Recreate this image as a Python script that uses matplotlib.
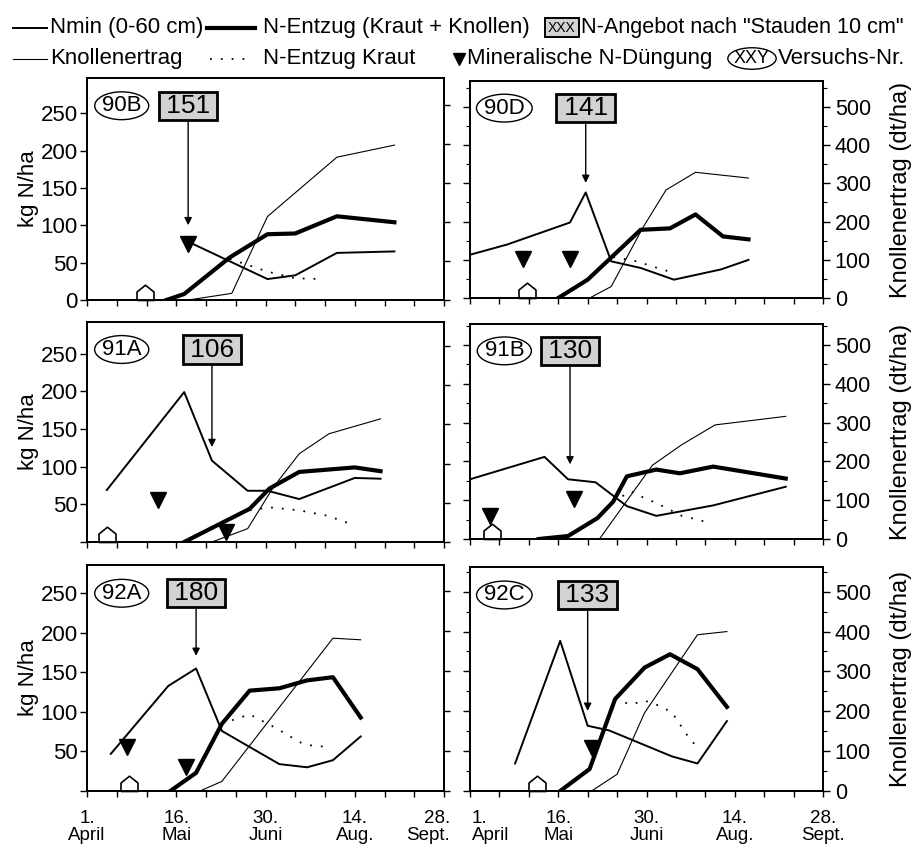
import matplotlib
matplotlib.use('Agg')
import matplotlib.pyplot as plt
from matplotlib.lines import Line2D
from matplotlib.transforms import ScaledTranslation
from matplotlib.ticker import MultipleLocator, FixedLocator, NullFormatter

plt.rcParams['font.family'] = ['Liberation Sans', 'DejaVu Sans']

# x axis: days counted from 1. April
date_ticks = [0, 45, 90, 135, 180]
date_labels = ['1.\nApril', '16.\nMai', '30.\nJuni', '14.\nAug.', '28.\nSept.']

# ---- 90B
nmin_90B_t = [51, 91, 105, 126, 155]
nmin_90B = [78, 28, 33, 63, 65]
entzug_90B_t = [40, 49, 72, 91, 105, 126, 155]
entzug_90B = [0, 8, 57, 88, 89, 112, 104]
kraut_90B_t = [72, 91, 105, 119]
kraut_90B = [55, 38, 29, 28]
ertrag_90B_t = [51, 73, 91, 126, 155]
ertrag_90B = [0, 17, 214, 366, 397]
duengung_90B_t = [51]
duengung_90B = [75]
pflanzung_90B = 29
angebot_90B = 151
angebot_90B_t = 51
angebot_90B_tip = 100

# ---- 90D
nmin_90D_t = [0, 19, 51, 59, 72, 87, 104, 128, 142]
nmin_90D = [59, 73, 103, 144, 50, 41, 25, 39, 52]
entzug_90D_t = [45, 60, 87, 102, 115, 129, 142]
entzug_90D = [0, 25, 93, 95, 114, 84, 80]
kraut_90D_t = [73, 85, 99, 105]
kraut_90D = [56, 50, 38, 34]
ertrag_90D_t = [61, 72, 88, 100, 115, 142]
ertrag_90D = [0, 30, 183, 283, 329, 314]
duengung_90D_t = [27, 51]
duengung_90D = [53, 53]
pflanzung_90D = 29
angebot_90D = 141
angebot_90D_t = 59
angebot_90D_tip = 157

# ---- 91A
nmin_91A_t = [10, 49, 63, 81, 91, 107, 135, 148]
nmin_91A = [69, 199, 108, 68, 68, 57, 85, 84]
entzug_91A_t = [49, 64, 82, 92, 107, 135, 148]
entzug_91A = [0, 20, 44, 71, 93, 99, 94]
kraut_91A_t = [82, 92, 107, 121, 133]
kraut_91A = [42, 46, 42, 35, 24]
ertrag_91A_t = [63, 81, 94, 107, 122, 148]
ertrag_91A = [0, 34, 140, 225, 276, 314]
duengung_91A_t = [36, 70]
duengung_91A = [56, 13]
pflanzung_91A = 10
angebot_91A = 106
angebot_91A_t = 63
angebot_91A_tip = 126

# ---- 91B
nmin_91B_t = [0, 38, 50, 64, 80, 95, 124, 161]
nmin_91B = [80, 110, 80, 76, 44, 31, 45, 70]
entzug_91B_t = [35, 50, 65, 73, 80, 95, 107, 124, 161]
entzug_91B = [0, 4, 28, 50, 84, 93, 88, 97, 81]
kraut_91B_t = [73, 82, 88, 96, 108, 116, 123]
kraut_91B = [50, 64, 56, 47, 31, 26, 21]
ertrag_91B_t = [66, 93, 108, 125, 161]
ertrag_91B = [0, 190, 243, 294, 316]
duengung_91B_t = [10, 53]
duengung_91B = [31, 53]
pflanzung_91B = 11
angebot_91B = 130
angebot_91B_t = 51
angebot_91B_tip = 100

# ---- 92A
nmin_92A_t = [12, 41, 55, 68, 97, 111, 124, 138]
nmin_92A = [47, 133, 155, 76, 34, 30, 39, 69]
entzug_92A_t = [42, 55, 68, 82, 97, 111, 124, 138]
entzug_92A = [0, 23, 85, 127, 130, 140, 144, 93]
kraut_92A_t = [68, 76, 82, 95, 101, 108, 114, 122]
kraut_92A = [85, 92, 97, 80, 71, 61, 57, 56]
ertrag_92A_t = [57, 68, 124, 138]
ertrag_92A = [0, 24, 382, 378]
duengung_92A_t = [20, 50]
duengung_92A = [56, 30]
pflanzung_92A = 21
angebot_92A = 180
angebot_92A_t = 55
angebot_92A_tip = 171

# ---- 92C
nmin_92C_t = [23, 46, 60, 71, 103, 116, 131]
nmin_92C = [35, 191, 83, 77, 44, 35, 89]
entzug_92C_t = [46, 61, 74, 89, 102, 116, 131]
entzug_92C = [0, 28, 117, 157, 174, 155, 107]
kraut_92C_t = [74, 82, 89, 96, 103, 107, 111, 116]
kraut_92C = [117, 110, 115, 109, 100, 85, 70, 55]
ertrag_92C_t = [62, 75, 89, 116, 131]
ertrag_92C = [0, 42, 196, 392, 400]
duengung_92C_t = [62]
duengung_92C = [55]
pflanzung_92C = 34
angebot_92C = 133
angebot_92C_t = 60
angebot_92C_tip = 102

versuche = ['90B', '90D', '91A', '91B', '92A', '92C']
daten = {
    '90B': (nmin_90B_t, nmin_90B, entzug_90B_t, entzug_90B, kraut_90B_t, kraut_90B,
            ertrag_90B_t, ertrag_90B, duengung_90B_t, duengung_90B, pflanzung_90B,
            angebot_90B, angebot_90B_t, angebot_90B_tip),
    '90D': (nmin_90D_t, nmin_90D, entzug_90D_t, entzug_90D, kraut_90D_t, kraut_90D,
            ertrag_90D_t, ertrag_90D, duengung_90D_t, duengung_90D, pflanzung_90D,
            angebot_90D, angebot_90D_t, angebot_90D_tip),
    '91A': (nmin_91A_t, nmin_91A, entzug_91A_t, entzug_91A, kraut_91A_t, kraut_91A,
            ertrag_91A_t, ertrag_91A, duengung_91A_t, duengung_91A, pflanzung_91A,
            angebot_91A, angebot_91A_t, angebot_91A_tip),
    '91B': (nmin_91B_t, nmin_91B, entzug_91B_t, entzug_91B, kraut_91B_t, kraut_91B,
            ertrag_91B_t, ertrag_91B, duengung_91B_t, duengung_91B, pflanzung_91B,
            angebot_91B, angebot_91B_t, angebot_91B_tip),
    '92A': (nmin_92A_t, nmin_92A, entzug_92A_t, entzug_92A, kraut_92A_t, kraut_92A,
            ertrag_92A_t, ertrag_92A, duengung_92A_t, duengung_92A, pflanzung_92A,
            angebot_92A, angebot_92A_t, angebot_92A_tip),
    '92C': (nmin_92C_t, nmin_92C, entzug_92C_t, entzug_92C, kraut_92C_t, kraut_92C,
            ertrag_92C_t, ertrag_92C, duengung_92C_t, duengung_92C, pflanzung_92C,
            angebot_92C, angebot_92C_t, angebot_92C_tip),
}

W, H = 914, 851

# panel boxes in pixels (left, right, top, bottom) and y limits
boxes = {
    '90B': (87, 444, 78, 300), '90D': (470, 823, 81, 298),
    '91A': (87, 444, 322, 542), '91B': (470, 823, 324, 539),
    '92A': (87, 444, 565, 791), '92C': (470, 823, 567, 791),
}
ylim_left = {'90B': 297, '90D': 296, '91A': 292, '91B': 288, '92A': 286, '92C': 285}
ylim_right = {'90B': 569, '90D': 568, '91A': 561, '91B': 554, '92A': 565, '92C': 562}

# house shaped marker (reference point at its base)
haus = [(-1, 0), (1, 0), (1, 1.0), (0, 1.8), (-1, 1.0), (-1, 0)]
tsp = '\u2009'

fig = plt.figure(figsize=(W / 100, H / 100), dpi=100)


def px(x):
    return x / W


def py(y):
    return 1 - y / H


for i, v in enumerate(versuche):
    l, r, t, b = boxes[v]
    ax = fig.add_axes([px(l), py(b), (r - l) / W, (b - t) / H])
    ax2 = ax.twinx()
    (n_t, n_v, e_t, e_v, k_t, k_v, y_t, y_v, d_t, d_v, pfl, ang, ang_t, ang_tip) = daten[v]
    links = i % 2 == 0
    unten = i >= 4

    ax.plot(n_t, n_v, color='k', lw=1.4, zorder=3)
    ax.plot(e_t, e_v, color='k', lw=3.0, zorder=3, solid_joinstyle='round')
    ax.plot(k_t, k_v, color='k', lw=1.3, linestyle=(0, (1, 5)), zorder=3)
    ax2.plot(y_t, y_v, color='k', lw=0.8, zorder=3)
    ax.plot(d_t, d_v, linestyle='none', marker='v', ms=11, color='k', zorder=5)
    ax.plot([pfl], [0], linestyle='none', marker=haus, ms=22, mfc='white', mec='k',
            mew=1.2, zorder=4, clip_on=False)

    ax.annotate(tsp + str(ang) + tsp, xy=(ang_t, ang_tip), xytext=(ang_t, ylim_left[v] * 0.875),
                ha='center', va='center', fontsize=19, zorder=6,
                bbox=dict(boxstyle='square,pad=0.08', fc='#d2d2d2', ec='k', lw=2.0),
                arrowprops=dict(arrowstyle='-|>', color='k', lw=1.0, mutation_scale=11,
                                shrinkA=0, shrinkB=0))
    ax.text(17.5, ylim_left[v] * 0.875, v, ha='center', va='center', fontsize=16, zorder=6,
            bbox=dict(boxstyle='ellipse,pad=-0.03', fc='white', ec='k', lw=1.0))

    ax.set_xlim(0, 180)
    ax.set_ylim(0, ylim_left[v])
    ax2.set_ylim(0, ylim_right[v])
    ax.xaxis.set_major_locator(FixedLocator(date_ticks))
    ax.xaxis.set_minor_locator(MultipleLocator(15))
    ax.tick_params(axis='x', which='both', direction='out', length=4, width=1.0)
    if unten:
        ax.set_xticklabels(date_labels, fontsize=13.5, linespacing=1.0)
        ax.tick_params(axis='x', pad=10)
        lbls = ax.get_xticklabels()
        if links:
            lbls[-1].set_horizontalalignment('right')
            lbls[-1].set_transform(lbls[-1].get_transform()
                                   + ScaledTranslation(6 / 100, 0, fig.dpi_scale_trans))
        else:
            lbls[0].set_horizontalalignment('left')
            lbls[0].set_transform(lbls[0].get_transform()
                                  + ScaledTranslation(2 / 100, 0, fig.dpi_scale_trans))
    else:
        ax.xaxis.set_major_formatter(NullFormatter())

    ax2.yaxis.set_major_locator(MultipleLocator(100))
    ax2.yaxis.set_minor_locator(MultipleLocator(50))
    if links:
        ax.set_yticks([0, 50, 100, 150, 200, 250])
        if i > 0:
            ax.set_yticklabels(['', '50', '100', '150', '200', '250'])
        ax.tick_params(axis='y', direction='out', length=5, width=1.0, labelsize=16, pad=1.5)
        ax.set_ylabel('kg N/ha', fontsize=16, labelpad=1)
        ax2.tick_params(axis='y', which='major', direction='out', length=4, width=1.0,
                        labelright=False)
        ax2.tick_params(axis='y', which='minor', length=0)
    else:
        ax.tick_params(axis='y', left=False, labelleft=False)
        ax2.yaxis.set_ticks_position('both')
        ax2.tick_params(axis='y', which='major', direction='out', length=5, width=1.0,
                        labelsize=15.5, labelleft=False, labelright=True)
        ax2.tick_params(axis='y', which='minor', direction='out', length=3, width=0.8)
        ax2.set_ylabel('Knollenertrag (dt/ha)', fontsize=17, labelpad=14)
    for a in (ax, ax2):
        for s in a.spines.values():
            s.set_linewidth(1.3)

# ---- legend across the top
y1, y2 = 27.5, 58.5
lg = dict(fontsize=16, va='center', ha='left')
fig.add_artist(Line2D([px(13), px(47)], [py(y1), py(y1)], color='k', lw=1.4))
fig.text(px(50), py(y1), 'Nmin (0-60 cm)', **lg)
fig.add_artist(Line2D([px(207), px(255)], [py(y1), py(y1)], color='k', lw=3.0))
fig.text(px(263), py(y1), 'N-Entzug (Kraut + Knollen)', **lg)
fig.text(px(562), py(y1), 'XXX', fontsize=10, ha='center', va='center',
         bbox=dict(boxstyle='square,pad=0.2', fc='#d2d2d2', ec='k', lw=1.4))
fig.text(px(581), py(y1), 'N-Angebot nach "Stauden 10 cm"', fontsize=15.6,
         va='center', ha='left')

fig.add_artist(Line2D([px(13), px(47)], [py(y2), py(y2)], color='k', lw=0.8))
fig.text(px(50), py(y2), 'Knollenertrag', **lg)
fig.add_artist(Line2D([px(210), px(250)], [py(y2), py(y2)], color='k', lw=1.3,
                      linestyle=(0, (1, 5))))
fig.text(px(263), py(y2), 'N-Entzug Kraut', **lg)
fig.add_artist(Line2D([px(459)], [py(y2)], marker='v', ms=9, color='k', linestyle='none'))
fig.text(px(467), py(y2), 'Mineralische N-Düngung', **lg)
fig.text(px(752), py(y2), 'XXY', fontsize=13, ha='center', va='center',
         bbox=dict(boxstyle='ellipse,pad=-0.05', fc='white', ec='k', lw=1.0))
fig.text(px(778), py(y2), 'Versuchs-Nr.', **lg)

fig.savefig('out.png', dpi=100)
